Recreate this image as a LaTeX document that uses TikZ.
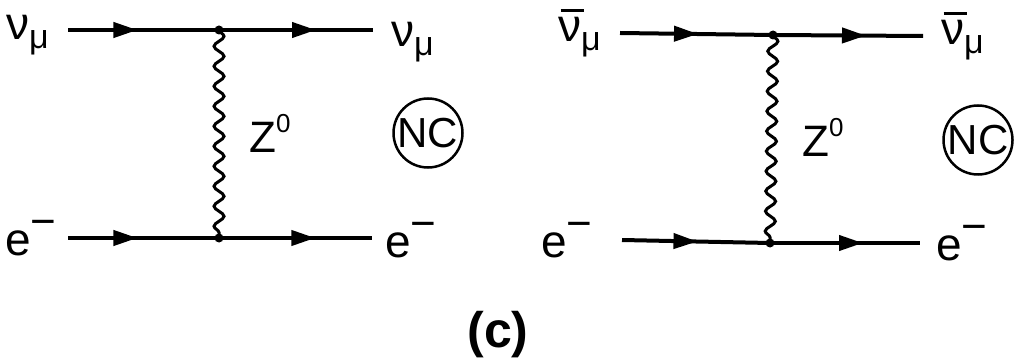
\documentclass[tikz,border=0pt]{standalone}
\usepackage{fontspec}
\setmainfont{Liberation Sans}
\usetikzlibrary{decorations.pathmorphing,decorations.markings,arrows.meta}
\newcommand{\nubar}{\makebox[0pt][l]{\hspace{0.05em}\rule[0.65em]{0.5em}{3pt}}ν}
\newcommand{\musub}{\raisebox{-9pt}{\fontsize{34}{34}\selectfont μ}}
\newcommand{\eminus}{e\raisebox{19pt}{\fontsize{44}{44}\selectfont −}}
\newcommand{\zsup}{Z\raisebox{20pt}{\fontsize{26}{26}\selectfont 0}}
\begin{document}
\begin{tikzpicture}[x=1pt,y=-1pt,
  fermion/.style={line width=4pt, postaction={decorate},
    decoration={markings, mark=at position #1 with {\arrow{Triangle[length=24pt,width=15pt]}}}},
  boson/.style={line width=3pt, decorate,
    decoration={snake, segment length=20pt, amplitude=5pt}},
  lbl/.style={font=\fontsize{46}{46}\selectfont, inner sep=0pt, anchor=base west},
  zlbl/.style={font=\fontsize{44}{44}\selectfont, inner sep=0pt, anchor=base west},
  ncbox/.style={draw, circle, line width=2.5pt, minimum size=69pt, inner sep=0pt,
    font=\fontsize{42}{42}\selectfont},
  vtx/.style={circle, fill, inner sep=0pt, minimum size=9pt}]
\useasboundingbox (0,0) rectangle (1016,363);
% ---- left diagram ----
\coordinate (a1) at (68,30);
\coordinate (a2) at (373,30);
\coordinate (b1) at (68,238);
\coordinate (b2) at (372,238);
\node[vtx] (v1) at (219,30) {};
\node[vtx] (v2) at (219,238) {};
\draw[fermion=0.46] (a1) -- (v1.center);
\draw[fermion=0.63] (v1.center) -- (a2);
\draw[fermion=0.46] (b1) -- (v2.center);
\draw[fermion=0.63] (v2.center) -- (b2);
\draw[boson] (v1.center) -- (v2.center);
\node[lbl] (la1) at (6,40) {ν\musub};
\node[lbl] (la2) at (391,47) {ν\musub};
\node[lbl] (lb1) at (5,255) {\eminus};
\node[lbl] (lb2) at (385,258) {\eminus};
\node[zlbl] (z1) at (249,153) {\zsup};
\node[ncbox] (nc1) at (428,133) {NC};
% ---- right diagram ----
\coordinate (c1) at (620,33);
\coordinate (c2) at (923,36);
\coordinate (d1) at (622,240);
\coordinate (d2) at (920,243);
\node[vtx] (w1) at (773,35) {};
\node[vtx] (w2) at (770,243) {};
\draw[fermion=0.51] (c1) -- (w1.center);
\draw[fermion=0.62] (w1.center) -- (c2);
\draw[fermion=0.51] (d1) -- (w2.center);
\draw[fermion=0.62] (w2.center) -- (d2);
\draw[boson] (w1.center) -- (w2.center);
\node[lbl] (lc1) at (558,42) {\nubar\musub};
\node[lbl] (lc2) at (941,45) {\nubar\musub};
\node[lbl] (ld1) at (541,257) {\eminus};
\node[lbl] (ld2) at (936,260) {\eminus};
\node[zlbl] (z2) at (802,157) {\zsup};
\node[ncbox] (nc2) at (978,140) {NC};
% ---- caption ----
\node[font=\fontsize{50}{50}\selectfont\bfseries, inner sep=0pt] (cap) at (498,335) {(c)};
\end{tikzpicture}
\end{document}
